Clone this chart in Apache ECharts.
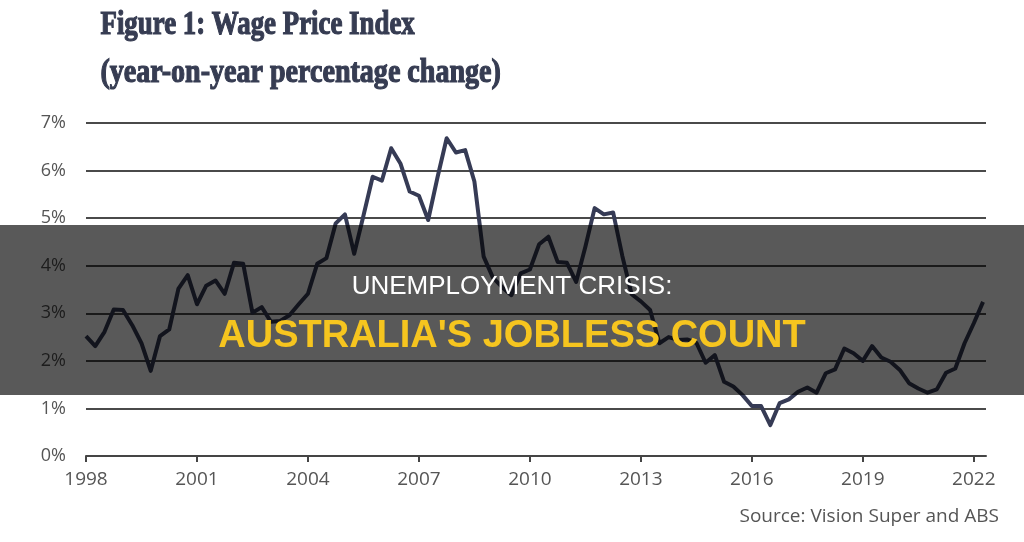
<!DOCTYPE html>
<html>
<head>
<meta charset="utf-8">
<script src="https://cdn.jsdelivr.net/npm/echarts@6/dist/echarts.min.js"></script>
<style>
  html, body { margin: 0; padding: 0; background: #ffffff; }
  #wpi-chart { width: 1024px; height: 542px; }
</style>
</head>
<body>
<div id="wpi-chart"></div>
<script>
// quarterly series, first point is 1998 Q1
var startYear = 1998;
var wpiChange = [
    2.52, 2.31, 2.61, 3.08, 3.07, 2.75, 2.37, 1.79,
    2.52, 2.66, 3.52, 3.80, 3.19, 3.58, 3.69, 3.41,
    4.06, 4.04, 3.01, 3.13, 2.82, 2.84, 2.96, 3.19,
    3.41, 4.04, 4.16, 4.89, 5.08, 4.25, 5.05, 5.87,
    5.79, 6.47, 6.15, 5.56, 5.47, 4.96, 5.85, 6.68,
    6.38, 6.43, 5.77, 4.19, 3.75, 3.55, 3.38, 3.84,
    3.92, 4.45, 4.61, 4.08, 4.06, 3.66, 4.40, 5.21,
    5.08, 5.12, 4.20, 3.40, 3.25, 3.07, 2.37, 2.50,
    2.44, 2.45, 2.38, 1.96, 2.12, 1.56, 1.46, 1.28,
    1.05, 1.05, 0.65, 1.11, 1.19, 1.35, 1.44, 1.33,
    1.74, 1.82, 2.26, 2.16, 2.00, 2.31, 2.07, 1.98,
    1.81, 1.53, 1.42, 1.33, 1.40, 1.75, 1.84, 2.37,
    2.79, 3.24
];
var yearTicks = [1998, 2001, 2004, 2007, 2010, 2013, 2016, 2019, 2022];
var percentTicks = [0, 1, 2, 3, 4, 5, 6, 7];

var titleLines = ['Figure 1: Wage Price Index', '(year-on-year percentage change)'];
var overlayTitle = 'UNEMPLOYMENT CRISIS:';
var overlaySubtitle = "AUSTRALIA'S JOBLESS COUNT";
var sourceNote = 'Source: Vision Super and ABS';

var seriesData = wpiChange.map(function (v, i) {
    return [startYear + i / 4, v];
});

var chart = echarts.init(document.getElementById('wpi-chart'));
var option = {
    animation: false,
    backgroundColor: '#ffffff',
    grid: { left: 86, right: 38, top: 123, bottom: 86 },
    xAxis: {
        type: 'value',
        min: yearTicks[0],
        max: 2022.33,
        interval: 3,
        axisLine: { show: true, lineStyle: { color: '#454545', width: 2 } },
        axisTick: { show: true, length: 6, lineStyle: { color: '#454545', width: 2 } },
        axisLabel: {
            color: '#555555',
            fontFamily: 'Open Sans',
            fontSize: 19,
            margin: 14,
            showMaxLabel: false,
            formatter: function (v) { return yearTicks.indexOf(v) >= 0 ? String(v) : ''; }
        },
        splitLine: { show: false }
    },
    yAxis: {
        type: 'value',
        min: percentTicks[0],
        max: percentTicks[percentTicks.length - 1],
        interval: 1,
        axisLine: { show: false },
        axisTick: { show: false },
        axisLabel: {
            color: '#555555',
            fontFamily: 'Open Sans',
            fontSize: 18,
            margin: 20,
            formatter: '{value}%'
        },
        splitLine: { show: true, lineStyle: { color: '#4a4a4a', width: 2 } }
    },
    series: [{
        type: 'line',
        data: seriesData,
        showSymbol: false,
        smooth: false,
        lineStyle: { color: '#363b55', width: 4, join: 'round' },
        z: 3
    }],
    graphic: [
        {
            type: 'text', left: 100, top: 8, z: 10,
            scaleX: 0.79,
            style: {
                text: titleLines[0], fill: '#363c52',
                stroke: '#363c52', lineWidth: 1.2,
                font: 'bold 34px "Liberation Serif", "DejaVu Serif", serif'
            }
        },
        {
            type: 'text', left: 100, top: 56, z: 10,
            scaleX: 0.825,
            style: {
                text: titleLines[1], fill: '#363c52',
                stroke: '#363c52', lineWidth: 1.2,
                font: 'bold 34px "Liberation Serif", "DejaVu Serif", serif'
            }
        },
        {
            type: 'rect', left: 0, top: 225, z: 50,
            shape: { width: 1024, height: 170 },
            style: { fill: 'rgba(0,0,0,0.65)' }
        },
        {
            type: 'text', x: 512, y: 287, z: 60,
            style: {
                text: overlayTitle, fill: '#ffffff',
                font: '26px "Liberation Sans", Arial, sans-serif',
                textAlign: 'center', textVerticalAlign: 'middle'
            }
        },
        {
            type: 'text', x: 512, y: 337, z: 60,
            style: {
                text: overlaySubtitle, fill: '#f6c51f',
                font: 'bold 38px "Liberation Sans", Arial, sans-serif',
                textAlign: 'center', textVerticalAlign: 'middle'
            }
        },
        {
            type: 'text', right: 25, top: 507, z: 10,
            style: {
                text: sourceNote, fill: '#555555',
                font: '19px "Open Sans", sans-serif'
            }
        }
    ]
};

chart.setOption(option);
window.onresize = function () {
    chart.resize();
};
</script>
</body>
</html>
